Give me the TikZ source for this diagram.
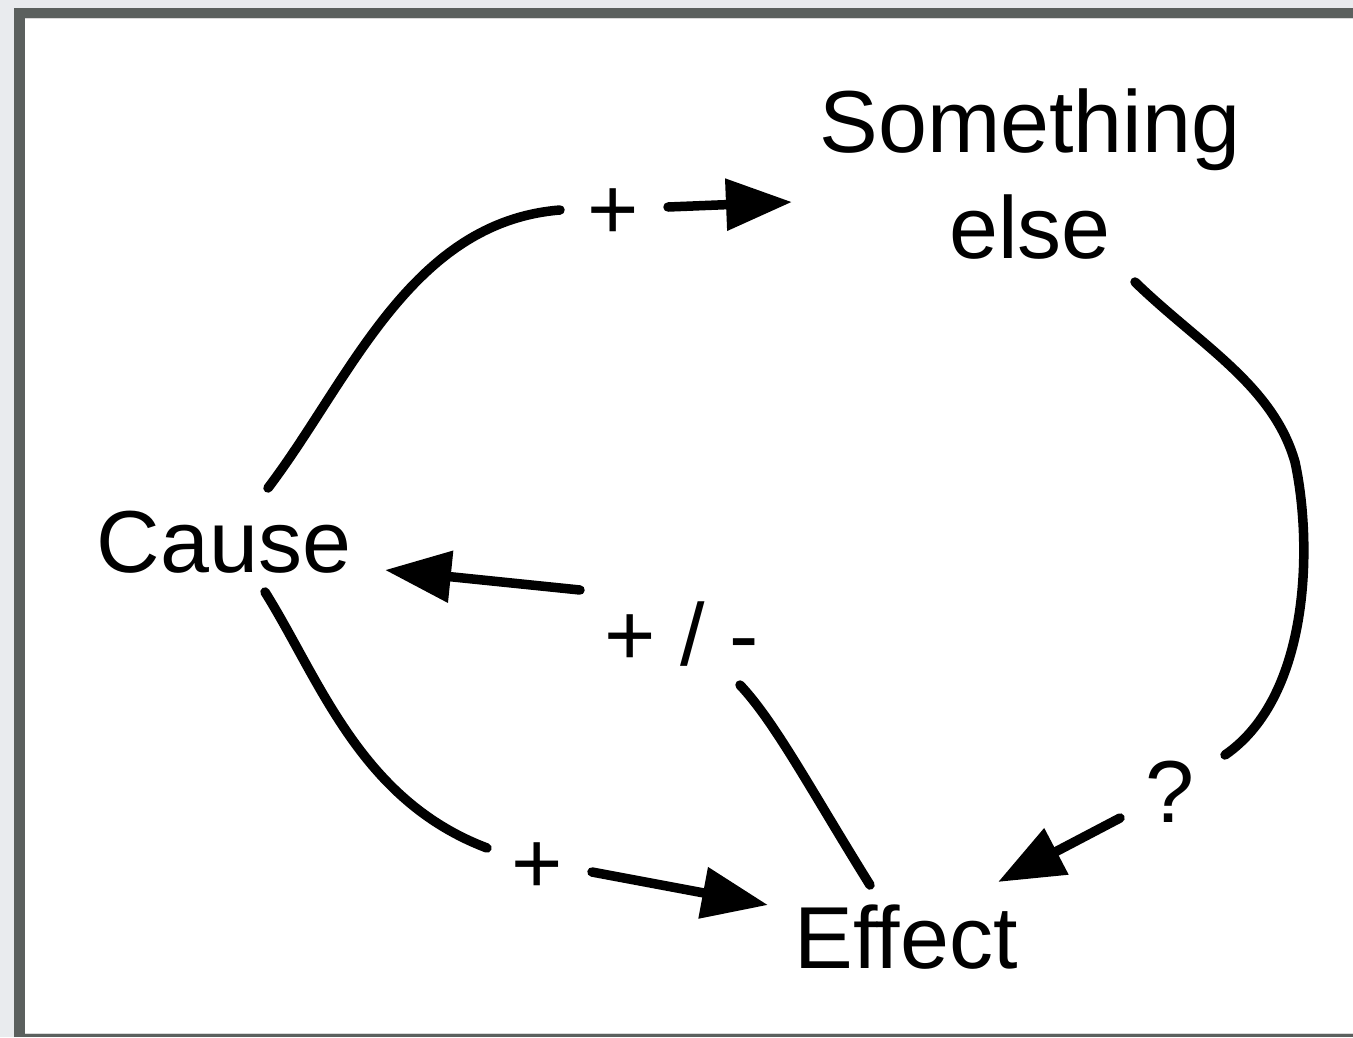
\documentclass[tikz,border=0pt]{standalone}
\usepackage{fontspec}
\setmainfont{Liberation Sans}
\usetikzlibrary{arrows.meta}
\definecolor{bglight}{HTML}{E9EBEE}
\definecolor{framedark}{HTML}{5B605E}
\begin{document}
\begin{tikzpicture}[x=1pt,y=-1pt,
  lbl/.style={inner sep=0pt, font=\fontsize{88}{106}\selectfont},
  conn/.style={line width=9.5pt, line cap=round, black},
  arr/.style={conn, -{Triangle[length=66pt,width=50pt]}}]
  \useasboundingbox (0,0) rectangle (1353,1037);
  \fill[bglight] (0,0) rectangle (1353,1037);
  \fill[framedark] (14,8) rectangle (1353,1037);
  \fill[white!85!black] (25,18) rectangle (1353,1034);
  \fill[white] (25,19) rectangle (1353,1033);
  % nodes
  \node[lbl, anchor=base] (cause) at (224,572) {Cause};
  \node[lbl, anchor=base] (effect) at (906,968) {Effect};
  \node[lbl, align=center] (selse) at (1030,174) {Something\\else};
  \node[lbl] (l1) at (613,214) {+};
  \node[lbl] (l2) at (682,634) {+ / -};
  \node[lbl] (l3) at (537,868) {+};
  \node[lbl] (l4) at (1170,792) {?};
  % connector end points
  \coordinate (a0) at (268,488);
  \coordinate (a1) at (560,210);
  \coordinate (a2) at (668,207);
  \coordinate (a3) at (792,202);
  \coordinate (b0) at (1135,282);
  \coordinate (bm) at (1295,462);
  \coordinate (b1) at (1225,755);
  \coordinate (b2) at (1120,818);
  \coordinate (b3) at (998,882);
  \coordinate (c0) at (870,885);
  \coordinate (c1) at (740,685);
  \coordinate (c2) at (580,590);
  \coordinate (c3) at (385,570);
  \coordinate (d0) at (265,592);
  \coordinate (d1) at (487,848);
  \coordinate (d2) at (592,872);
  \coordinate (d3) at (768,905);
  % Cause -> Something else
  \draw[conn] (a0) .. controls (350,380) and (410,222) .. (a1);
  \draw[arr] (a2) -- (a3);
  % Something else -> Effect
  \draw[conn] (b0) .. controls (1200,345) and (1273,385) .. (bm)
              .. controls (1312,540) and (1312,695) .. (b1);
  \draw[arr] (b2) -- (b3);
  % Effect -> Cause
  \draw[conn] (c0) .. controls (812,792) and (775,722) .. (c1);
  \draw[arr] (c2) -- (c3);
  % Cause -> Effect
  \draw[conn] (d0) .. controls (320,680) and (360,800) .. (d1);
  \draw[arr] (d2) -- (d3);
\end{tikzpicture}
\end{document}
